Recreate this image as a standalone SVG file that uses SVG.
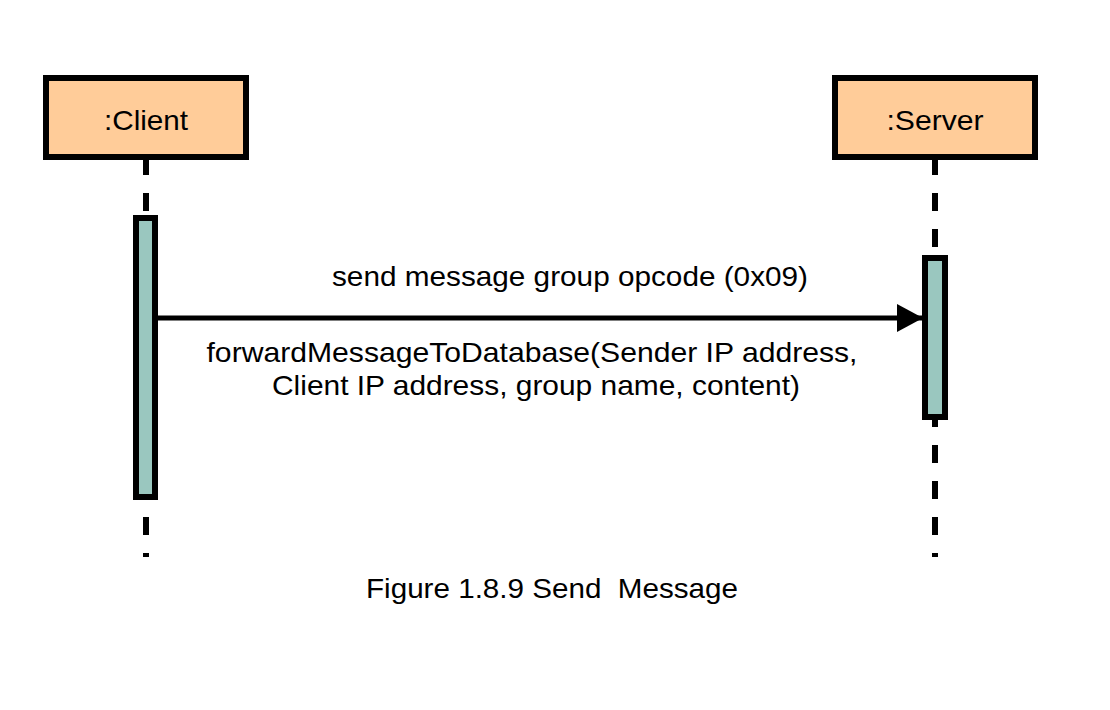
<svg xmlns="http://www.w3.org/2000/svg" width="1110" height="710" viewBox="0 0 1110 710">
<style>
.obj{fill:#FFCC99;stroke:#000;stroke-width:6}
.act{fill:#9AC7BF;stroke:#000;stroke-width:6}
.life{stroke:#000;stroke-width:6;stroke-dasharray:18 18;fill:none}
.t{font-family:"Liberation Sans",Arial,sans-serif;fill:#000;font-size:28px}
</style>
<defs>
<marker id="ah" markerUnits="userSpaceOnUse" markerWidth="28" markerHeight="30" refX="26" refY="14" orient="auto">
<path d="M0,0 L26,14 L0,28 Z" fill="#000"/>
</marker>
</defs>
<rect width="1110" height="710" fill="#fff"/>
<g id="lifelines">
<line class="life" x1="146" y1="157" x2="146" y2="557"/>
<line class="life" x1="935" y1="157" x2="935" y2="557"/>
</g>
<g id="client">
<rect class="obj" x="46" y="78" width="200" height="79"/>
<text class="t" x="146" y="130" text-anchor="middle" textLength="84" lengthAdjust="spacingAndGlyphs">:Client</text>
<rect class="act" x="136" y="218" width="19" height="279"/>
</g>
<g id="server">
<rect class="obj" x="835" y="78" width="200" height="79"/>
<text class="t" x="935" y="130" text-anchor="middle" textLength="97" lengthAdjust="spacingAndGlyphs">:Server</text>
<rect class="act" x="925" y="258" width="20" height="159"/>
</g>
<g id="connectors">
<line x1="158" y1="318" x2="923" y2="318" stroke="#000" stroke-width="5" marker-end="url(#ah)"/>
<text class="t" x="570" y="286" text-anchor="middle" textLength="476" lengthAdjust="spacingAndGlyphs">send message group opcode (0x09)</text>
<text class="t" x="532" y="362" text-anchor="middle" textLength="651" lengthAdjust="spacingAndGlyphs">forwardMessageToDatabase(Sender IP address,</text>
<text class="t" x="536" y="395" text-anchor="middle" textLength="528" lengthAdjust="spacingAndGlyphs">Client IP address, group name, content)</text>
</g>
<text class="t" x="552" y="598" text-anchor="middle" textLength="372" lengthAdjust="spacingAndGlyphs" xml:space="preserve">Figure 1.8.9 Send  Message</text>
</svg>
